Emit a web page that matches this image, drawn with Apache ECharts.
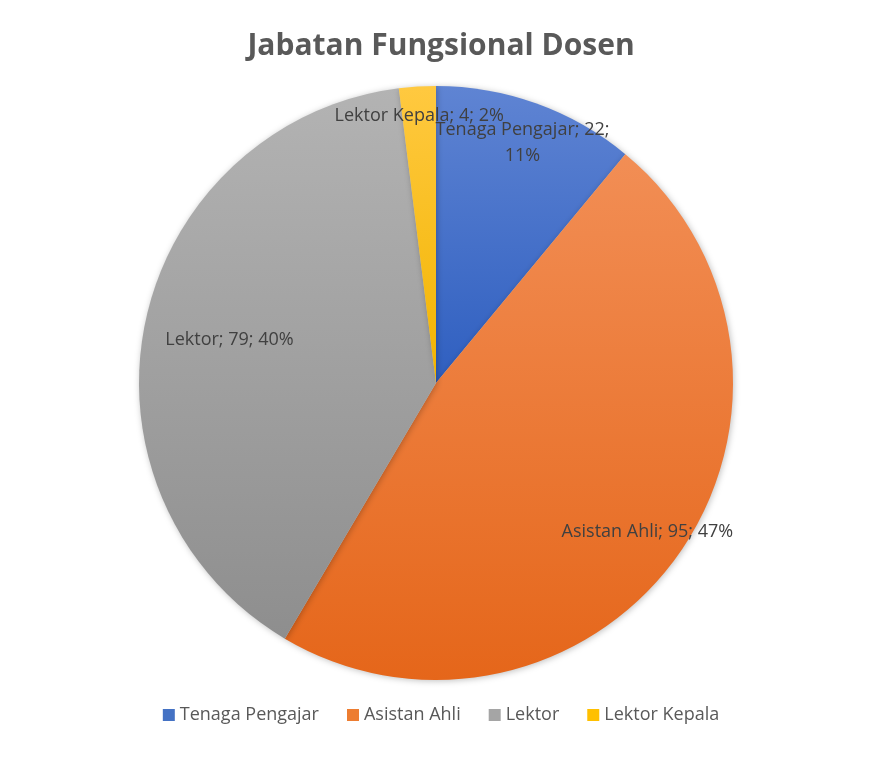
<!DOCTYPE html>
<html><head><meta charset="utf-8">
<script src="https://cdn.jsdelivr.net/npm/echarts@6/dist/echarts.min.js"></script>
<style>html,body{margin:0;padding:0;background:#fff}#c{width:882px;height:776px}</style>
</head><body><div id="c"></div>
<script>
var categories = ['Tenaga Pengajar', 'Asistan Ahli', 'Lektor', 'Lektor Kepala'];
var values = [22, 95, 79, 4];
var percentLabels = ['11%', '47%', '40%', '2%'];
var labelRadiusRatio = [0.86, 0.87, 0.71, 0.9];
var labelAngleShift = [0, 0, 0, 0];

var colorTop = ['#5f84d3', '#f28e55', '#b3b3b3', '#ffc940'];
var colorBottom = ['#2f5fc0', '#e5661a', '#8e8e8e', '#f2b400'];
var legendColors = ['#4472C4', '#ED7D31', '#A5A5A5', '#FFC000'];

var CX = 436, CY = 383, R = 297;
var total = values.reduce(function(a,b){return a+b;},0);
var cum = 0, midAngles = [];
values.forEach(function(v){ midAngles.push((cum + v/2)/total*360); cum += v; });

var data = categories.map(function(n,i){
  return {
    name: n, value: values[i],
    itemStyle: {
      color: new echarts.graphic.LinearGradient(0,0,0,1,[{offset:0,color:colorTop[i]},{offset:1,color:colorBottom[i]}])
    }
  };
});

var chart = echarts.init(document.getElementById('c'));
chart.setOption({
  backgroundColor: '#fff',
  animation: false,
  color: legendColors,
  title: {
    text: 'Jabatan Fungsional Dosen',
    left: 'center', top: 26,
    textStyle: {fontFamily: 'Open Sans', fontWeight: 'bold', fontSize: 30, color: '#595959'}
  },
  legend: {
    bottom: 47, left: 'center',
    icon: 'rect', itemWidth: 12, itemHeight: 12, itemGap: 28,
    textStyle: {fontFamily: 'Open Sans', fontSize: 18, color: '#595959'},
    data: categories.map(function(n,i){ return {name:n, itemStyle:{color: legendColors[i]}}; })
  },
  series: [{
    type: 'pie',
    center: [CX, CY],
    radius: [0, R],
    startAngle: 90,
    clockwise: true,
    itemStyle: {shadowBlur: 6, shadowColor: 'rgba(0,0,0,0.25)', shadowOffsetX: 1, shadowOffsetY: 1},
    label: {
      show: true, position: 'inside',
      fontFamily: 'Open Sans', fontSize: 18, color: '#404040',
      lineHeight: 26,
      formatter: function(p){
        var s = p.name + '; ' + p.value + '; ' + percentLabels[p.dataIndex];
        if (p.dataIndex === 0) s = p.name + '; ' + p.value + ';\n' + percentLabels[p.dataIndex];
        return s;
      }
    },
    labelLine: {show: false},
    labelLayout: function(params){
      var i = params.dataIndex;
      var a = (midAngles[i] + labelAngleShift[i]) * Math.PI/180;
      var rr = R * labelRadiusRatio[i];
      return {x: CX + rr*Math.sin(a), y: CY - rr*Math.cos(a), align: 'center', verticalAlign: 'middle'};
    },
    data: data
  }]
});
</script></body></html>
